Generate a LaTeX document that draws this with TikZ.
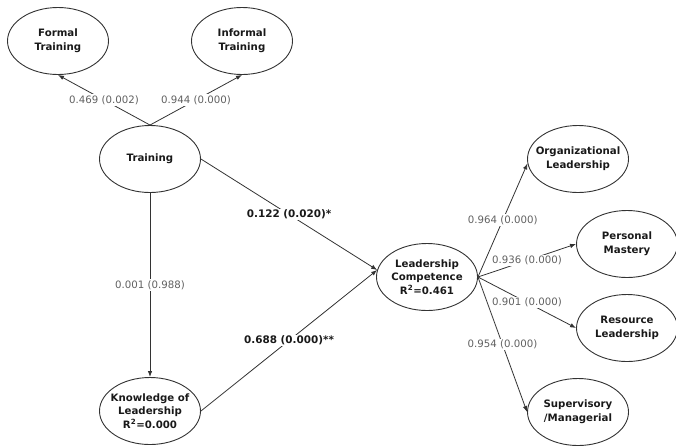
\documentclass[tikz,border=0pt]{standalone}
\usepackage{fontspec}
\setmainfont{DejaVu Sans}
\usetikzlibrary{shapes.geometric,arrows.meta}
\begin{document}
\begin{tikzpicture}[x=1pt,y=-1pt,
  latent/.style={ellipse,draw=black!80,line width=0.9pt,minimum width=101pt,minimum height=67pt,inner sep=0pt},
  vname/.style={font=\bfseries\fontsize{10.2}{13.8}\selectfont,align=center,text=black!90,inner sep=0pt},
  link/.style={draw=black!80,line width=0.8pt,-{Latex[length=6pt,width=4.5pt]}},
  wlab/.style={fill=white,inner sep=1.2pt,font=\fontsize{10.2}{12}\selectfont,text=black!62},
  blab/.style={fill=white,inner sep=1.2pt,font=\bfseries\fontsize{10.4}{12}\selectfont,text=black!90},
]
\useasboundingbox (0,0) rectangle (676,445);

% ellipses
\node[latent] (ft) at (58,41) {};
\node[latent] (it) at (242,41) {};
\node[latent] (tr) at (150,159) {};
\node[latent] (kl) at (150,411) {};
\node[latent] (lc) at (427,277) {};
\node[latent] (ol) at (578,159) {};
\node[latent] (pm) at (627,244) {};
\node[latent] (rl) at (627,328) {};
\node[latent] (sm) at (578,412) {};

% texts
\node[vname] (ft-t) at (ft) {Formal\\Training};
\node[vname] (it-t) at (it) {Informal\\Training};
\node[vname] (tr-t) at (tr) {Training};
\node[vname] (kl-t) at (kl) {Knowledge of\\Leadership\\R\textsuperscript{2}=0.000};
\node[vname] (lc-t) at (lc) {Leadership\\Competence\\R\textsuperscript{2}=0.461};
\node[vname] (ol-t) at (ol) {Organizational\\Leadership};
\node[vname] (pm-t) at (pm) {Personal\\Mastery};
\node[vname] (rl-t) at (rl) {Resource\\Leadership};
\node[vname] (sm-t) at (sm) {Supervisory\\/Managerial};

% connectors
\draw[link] (tr.north) -- node[wlab] (l1) {0.469 (0.002)} (ft.south);
\draw[link] (tr.north) -- node[wlab] (l2) {0.944 (0.000)} (it.south);
\draw[link] (tr.south) -- node[wlab] (l3) {0.001 (0.988)} (kl.north);
\draw[link] (tr.east) -- node[blab] (l4) {0.122 (0.020)*} (lc.172);
\draw[link] (kl.east) -- node[blab] (l5) {0.688 (0.000)**} (lc.172);
\draw[link] (lc.east) -- node[wlab] (l6) {0.964 (0.000)} (ol.185);
\draw[link] (lc.east) -- node[wlab] (l7) {0.936 (0.000)} (pm.west);
\draw[link] (lc.east) -- node[wlab] (l8) {0.901 (0.000)} (rl.west);
\draw[link] (lc.east) -- node[wlab] (l9) {0.954 (0.000)} (sm.west);
\end{tikzpicture}
\end{document}
